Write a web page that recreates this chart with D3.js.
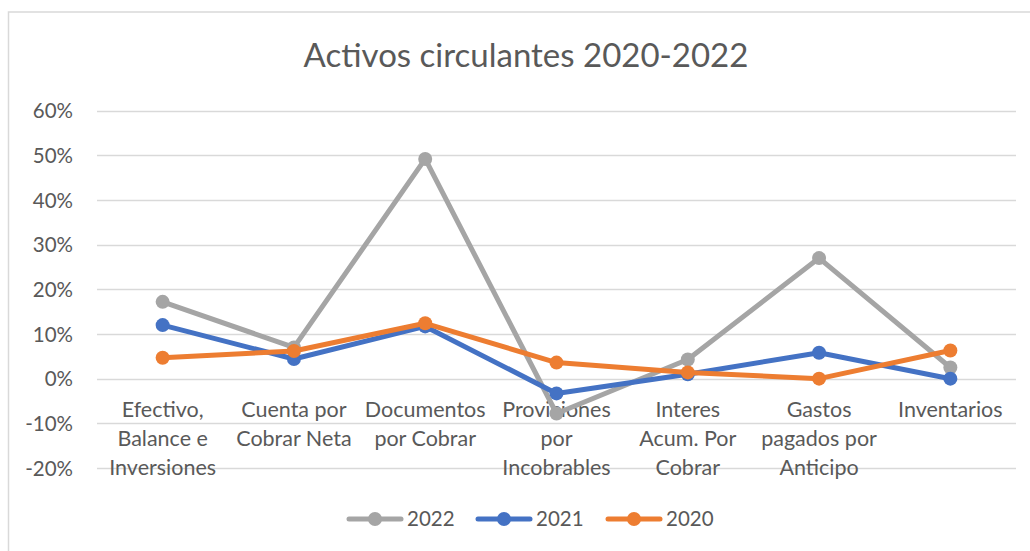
<!DOCTYPE html>
<html><head><meta charset="utf-8">
<script src="https://cdn.jsdelivr.net/npm/d3@7"></script>
<style>body{margin:0;background:#fff}svg{display:block}</style>
</head><body>
<script>
const categories = ["Efectivo, Balance e Inversiones","Cuenta por Cobrar Neta","Documentos por Cobrar","Proviciones por Incobrables","Interes Acum. Por Cobrar","Gastos pagados por Anticipo","Inventarios"];
const categoryLines = [["Efectivo,","Balance e","Inversiones"],["Cuenta por","Cobrar Neta"],["Documentos","por Cobrar"],["Proviciones","por","Incobrables"],["Interes","Acum. Por","Cobrar"],["Gastos","pagados por","Anticipo"],["Inventarios"]];
const years = ["2022","2021","2020"];
const values2022 = [0.172, 0.070, 0.492, -0.078, 0.043, 0.270, 0.025];
const values2021 = [0.120, 0.044, 0.117, -0.033, 0.010, 0.058, 0.000];
const values2020 = [0.047, 0.062, 0.124, 0.036, 0.014, 0.000, 0.063];
const yTicks = [-0.2,-0.1,0,0.1,0.2,0.3,0.4,0.5,0.6];
const yTickLabels = ["-20%","-10%","0%","10%","20%","30%","40%","50%","60%"];
const title = "Activos circulantes 2020-2022";

const series = [
  {name:years[0], values: values2022, color:"#A5A5A5"},
  {name:years[1], values: values2021, color:"#4472C4"},
  {name:years[2], values: values2020, color:"#ED7D31"}
];

const W=1030,H=551;
const svg=d3.select("body").append("svg").attr("width",W).attr("height",H);
const font="Lato, sans-serif";
const txt="#595959";
// chart border
svg.append("rect").attr("x",8.5).attr("y",12).attr("width",1040).attr("height",560)
  .attr("fill","none").attr("stroke","#D9D9D9").attr("stroke-width",1.5);

const x=d3.scalePoint().domain(categories).range([97,1016]).padding(0.5);
const y=d3.scaleLinear().domain([-0.2,0.6]).range([468,110.7]);

// gridlines
svg.append("g").selectAll("line").data(yTicks).join("line")
  .attr("x1",97).attr("x2",1016).attr("y1",d=>Math.round(y(d))+0.5).attr("y2",d=>Math.round(y(d))+0.5)
  .attr("stroke","#D9D9D9").attr("stroke-width",1.3);

// y axis labels
const yAxis=d3.axisLeft(y).tickValues(yTicks).tickFormat((d,i)=>yTickLabels[i]).tickSize(0).tickPadding(0);
const ya=svg.append("g").attr("transform","translate(73,0)").call(yAxis);
ya.select(".domain").remove();
ya.selectAll("text").attr("font-family",font).attr("font-size",20.5).attr("fill",txt).attr("dy","0.35em");

// x labels
const xl=svg.append("g");
categories.forEach((c,i)=>{
  const t=xl.append("text").attr("x",x(c)).attr("y",417).attr("text-anchor","middle")
    .attr("font-family",font).attr("font-size",21.5).attr("fill",txt);
  categoryLines[i].forEach((ln,j)=>t.append("tspan").attr("x",x(c)).attr("dy",j?29:0).text(ln));
});

// lines
const line=d3.line().x((d,i)=>x(categories[i])).y(d=>y(d));
series.forEach(s=>{
  const g=svg.append("g");
  g.append("path").datum(s.values).attr("d",line).attr("fill","none").attr("stroke",s.color)
    .attr("stroke-width",5).attr("stroke-linejoin","round").attr("stroke-linecap","round");
  g.selectAll("circle").data(s.values).join("circle").attr("cx",(d,i)=>x(categories[i])).attr("cy",d=>y(d))
    .attr("r",7).attr("fill",s.color);
});

// title
svg.append("text").attr("x",526).attr("y",67).attr("text-anchor","middle")
  .attr("font-family",font).attr("font-size",33).attr("fill",txt).text(title);

// legend
const legX=[347,476,606];
series.forEach((s,i)=>{
  const g=svg.append("g").attr("transform",`translate(${legX[i]},519)`);
  g.append("line").attr("x1",2).attr("x2",54).attr("stroke",s.color).attr("stroke-width",5).attr("stroke-linecap","round");
  g.append("circle").attr("cx",28).attr("r",7).attr("fill",s.color);
  g.append("text").attr("x",60).attr("y",0).attr("dy","0.35em").attr("font-family",font).attr("font-size",20.5)
    .attr("fill",txt).text(s.name);
});
</script>
</body></html>
